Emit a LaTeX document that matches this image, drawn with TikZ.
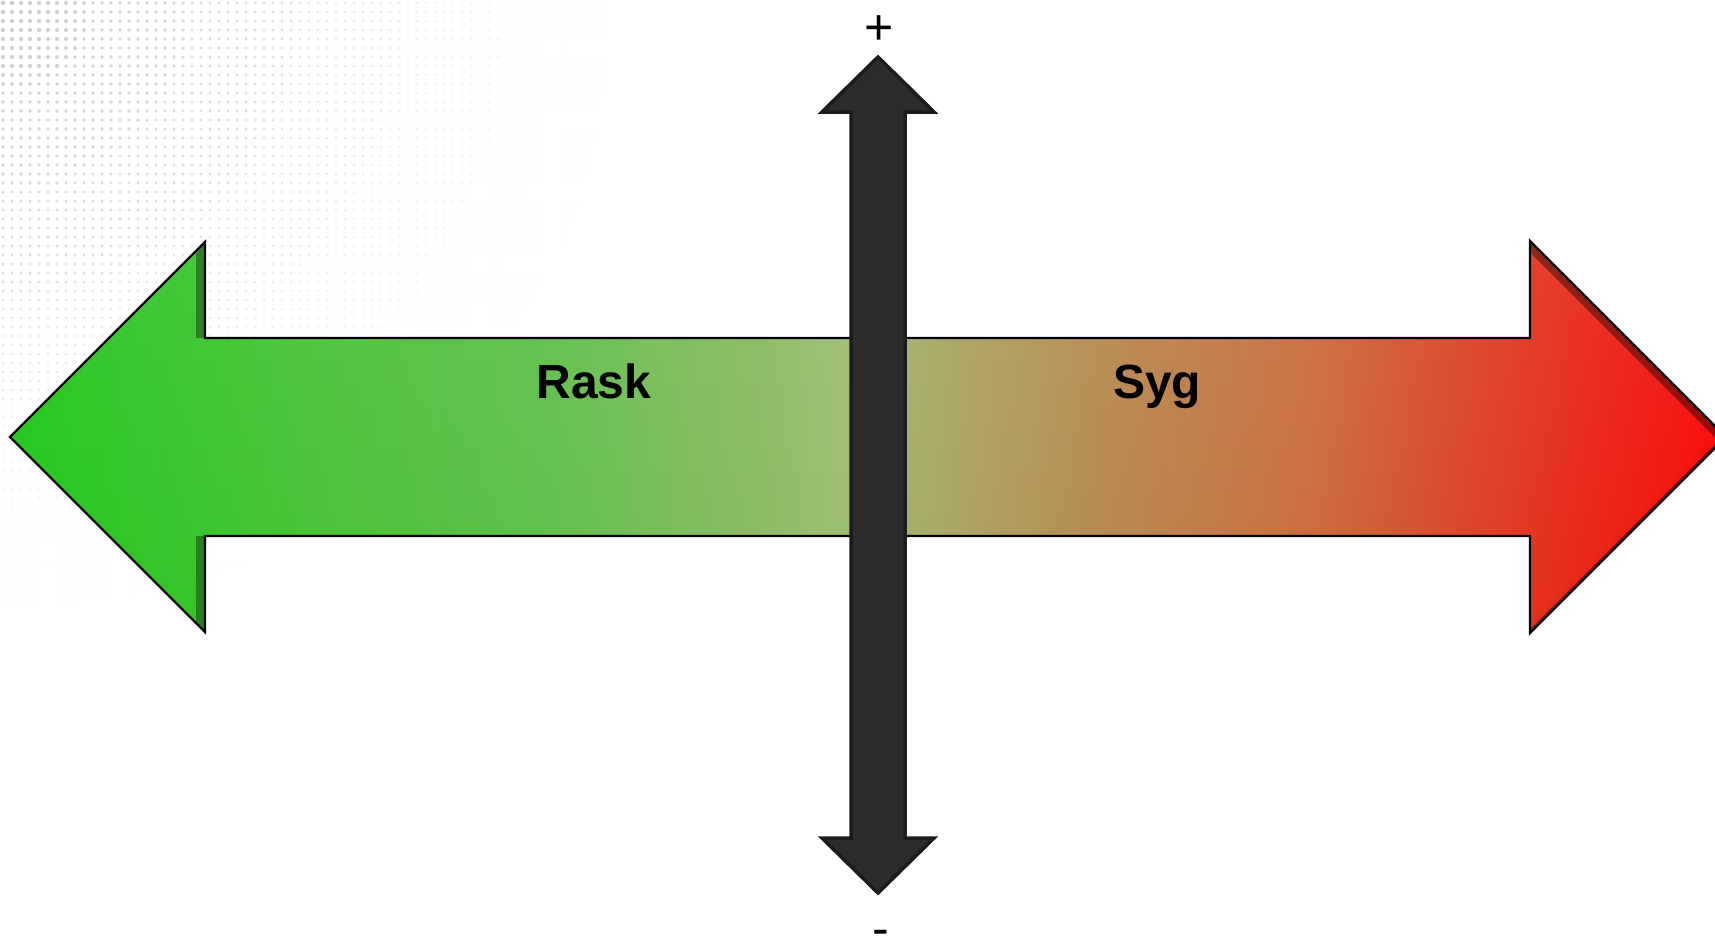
\documentclass[tikz,border=0pt]{standalone}
\usepackage{fontspec}
\setmainfont{Liberation Sans}
\usetikzlibrary{fadings}

% colour run of the horizontal bar, green on the left to red on the right
\pgfdeclarehorizontalshading{healthbar}{100bp}{%
  rgb(0bp)=(0.12,0.78,0.10);
  rgb(25bp)=(0.12,0.78,0.10);
  rgb(34.25bp)=(0.29,0.76,0.22);
  rgb(40.65bp)=(0.37,0.75,0.29);
  rgb(47bp)=(0.55,0.73,0.39);
  rgb(49.25bp)=(0.61,0.74,0.44);
  rgb(51.8bp)=(0.66,0.66,0.40);
  rgb(56.6bp)=(0.71,0.54,0.31);
  rgb(62.95bp)=(0.79,0.42,0.24);
  rgb(69.3bp)=(0.89,0.20,0.12);
  rgb(75bp)=(0.98,0.02,0.02);
  rgb(100bp)=(0.98,0.02,0.02)}

\definecolor{dotgray}{RGB}{170,170,170}
\definecolor{axisfill}{RGB}{44,44,44}
\definecolor{axisedge}{RGB}{28,28,28}

\tikzset{
  barline/.style={draw=black, line width=2.4pt, line join=miter},
  axisarrow/.style={fill=axisfill, draw=axisedge, line width=3.5pt, line join=miter},
  barlabel/.style={inner sep=0pt, anchor=base, font=\fontsize{48}{56}\selectfont\bfseries},
  signlabel/.style={inner sep=0pt, anchor=base, font=\fontsize{50}{60}\selectfont},
}

\begin{document}
\begin{tikzpicture}[x=1pt, y=-1pt]
\useasboundingbox (0,0) rectangle (1715,946);
\fill[white] (0,0) rectangle (1715,946);

% halftone dots fading out from the upper left corner
\foreach \i in {0,...,72}{
  \foreach \j in {0,...,72}{
    \pgfmathsetmacro\dx{3+9*\i}
    \pgfmathsetmacro\dy{3+9*\j}
    \pgfmathsetmacro\dfade{1-veclen(\dx,\dy)/680}
    \ifdim\dfade pt>0pt
      \pgfmathsetmacro\dop{0.6*\dfade}
      \fill[dotgray, fill opacity=\dop] (\dx,\dy) circle[radius=0.6+1.6*\dfade];
    \fi
  }
}

% corner points of the horizontal double arrow
\coordinate (L)   at (10,437);
\coordinate (LHt) at (205,242);
\coordinate (LSt) at (205,338);
\coordinate (RSt) at (1530,338);
\coordinate (RHt) at (1530,241);
\coordinate (R)   at (1726,437);
\coordinate (RHb) at (1530,633);
\coordinate (RSb) at (1530,536);
\coordinate (LSb) at (205,536);
\coordinate (LHb) at (205,632);

% horizontal double arrow: gradient body
\shade[shading=healthbar]
  (L) -- (LHt) -- (LSt) -- (RSt) -- (RHt) -- (R) -- (RHb) -- (RSb) -- (LSb) -- (LHb) -- cycle;
% faint light sheen towards the top
\fill[white, fill opacity=0.07, path fading=south]
  (L) -- (LHt) -- (LSt) -- (RSt) -- (RHt) -- (R) -- (RHb) -- (RSb) -- (LSb) -- (LHb) -- cycle;

% darker bevel strips inside the two heads
\begin{scope}
  \clip (L) -- (LHt) -- (LSt) -- (RSt) -- (RHt) -- (R) -- (RHb) -- (RSb) -- (LSb) -- (LHb) -- cycle;
  \draw[black, opacity=0.35, line width=18pt] (LHt) -- (LSt);
  \draw[black, opacity=0.35, line width=18pt] (LSb) -- (LHb);
  \draw[black, opacity=0.38, line width=16pt] (RHt) -- (R);
  \draw[black, opacity=0.30, line width=6pt] (R) -- (RHb);
\end{scope}

% outline of the horizontal double arrow
\draw[barline]
  (L) -- (LHt) -- (LSt) -- (RSt) -- (RHt) -- (R) -- (RHb) -- (RSb) -- (LSb) -- (LHb) -- cycle;

% vertical double arrow
\coordinate (T)   at (878,57);
\coordinate (THr) at (934,112);
\coordinate (TSr) at (905,112);
\coordinate (BSr) at (905,838);
\coordinate (BHr) at (934,838);
\coordinate (B)   at (878,893);
\coordinate (BHl) at (822,838);
\coordinate (BSl) at (851,838);
\coordinate (TSl) at (851,112);
\coordinate (THl) at (822,112);
\path[axisarrow]
  (T) -- (THr) -- (TSr) -- (BSr) -- (BHr) -- (B) -- (BHl) -- (BSl) -- (TSl) -- (THl) -- cycle;

% labels
\node[signlabel] (plus)  at (879,44) {+};
\node[barlabel] (rask) at (594,398) {Rask};
\node[barlabel] (syg)  at (1157,398) {Syg};
\node[signlabel] (minus) at (881,945) {-};
\end{tikzpicture}
\end{document}
